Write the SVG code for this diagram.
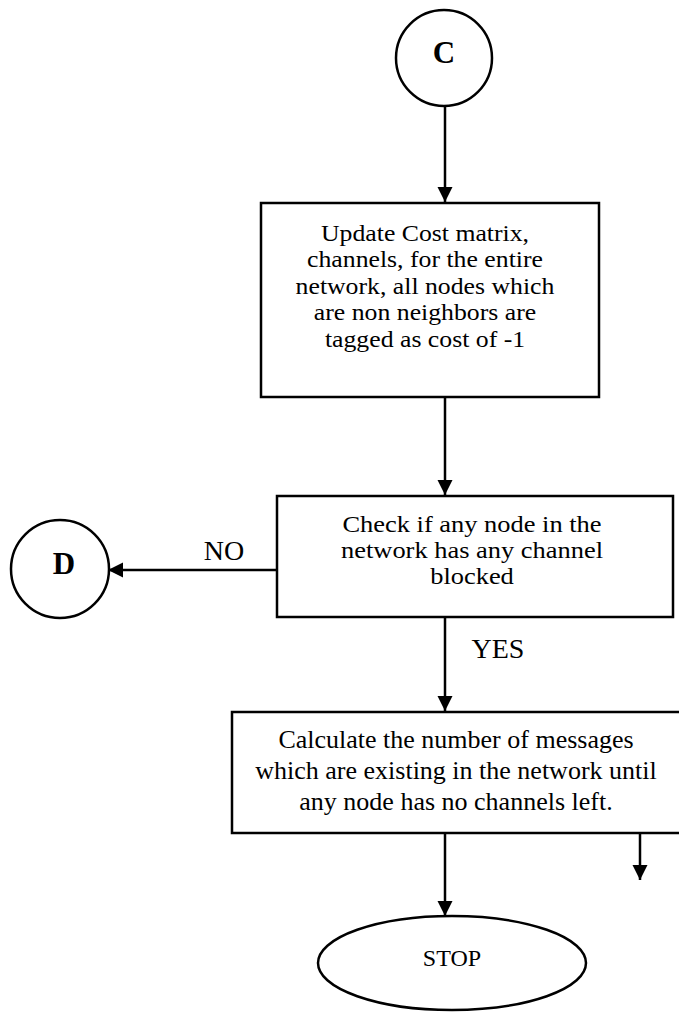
<svg xmlns="http://www.w3.org/2000/svg" width="679" height="1012" viewBox="0 0 679 1012">
<style>
.b{fill:#fff;stroke:#000;stroke-width:2.5}
.c{stroke:#000;stroke-width:2.5;fill:none}
.t{font-family:"Liberation Serif","Times New Roman",serif;font-size:26px;fill:#000;text-anchor:middle}
.lbl{font-size:28px}
.bold{font-weight:bold;font-size:31px}
.f23{font-size:23px}
</style>
<defs>
<marker id="ah" viewBox="0 0 10 10" refX="10" refY="5" markerWidth="15" markerHeight="17" orient="auto" markerUnits="userSpaceOnUse">
<path d="M0,0 L10,5 L0,10 Z" fill="#000"/>
</marker>
</defs>
<g id="connectors">
<line class="c" x1="445" y1="106" x2="445" y2="202" marker-end="url(#ah)"/>
<line class="c" x1="445" y1="397" x2="445" y2="495" marker-end="url(#ah)"/>
<line class="c" x1="277" y1="570" x2="108" y2="570" marker-end="url(#ah)"/>
<line class="c" x1="445" y1="617" x2="445" y2="711" marker-end="url(#ah)"/>
<line class="c" x1="445" y1="833" x2="445" y2="916" marker-end="url(#ah)"/>
<line class="c" x1="640" y1="833" x2="640" y2="880" marker-end="url(#ah)"/>
<text class="t lbl" x="224" y="560">NO</text>
<text class="t lbl" x="498" y="658">YES</text>
</g>
<g id="nodeC">
<circle class="b" cx="444" cy="58" r="48"/>
<text class="t bold" x="444" y="63">C</text>
</g>
<g id="nodeUpdate">
<rect class="b" x="261" y="203" width="338" height="194"/>
<g transform="translate(425,0) scale(1.12,1)">
<text class="t f23" x="0" y="241">Update Cost matrix,</text>
<text class="t f23" x="0" y="267">channels, for the entire</text>
<text class="t f23" x="0" y="294">network, all nodes which</text>
<text class="t f23" x="0" y="320">are non neighbors are</text>
<text class="t f23" x="0" y="347">tagged as cost of -1</text>
</g>
</g>
<g id="nodeCheck">
<rect class="b" x="277" y="496" width="396" height="121"/>
<g transform="translate(472,0) scale(1.15,1)">
<text class="t f23" x="0" y="532">Check if any node in the</text>
<text class="t f23" x="0" y="558">network has any channel</text>
<text class="t f23" x="0" y="584">blocked</text>
</g>
</g>
<g id="nodeD">
<circle class="b" cx="60" cy="569" r="49"/>
<text class="t bold" x="64" y="574">D</text>
</g>
<g id="nodeCalc">
<rect class="b" x="232" y="712" width="470" height="121"/>
<text class="t" x="456" y="748">Calculate the number of messages</text>
<text class="t" x="456" y="779">which are existing in the network until</text>
<text class="t" x="456" y="810">any node has no channels left.</text>
</g>
<g id="nodeStop">
<ellipse class="b" cx="452" cy="963" rx="134" ry="47"/>
<text class="t" x="452" y="966" style="font-size:24px">STOP</text>
</g>
</svg>
